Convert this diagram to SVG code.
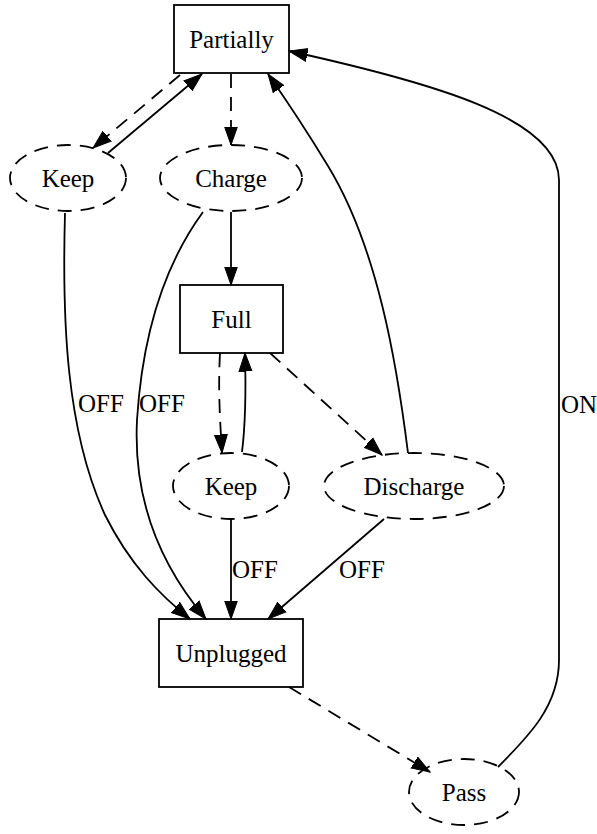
<svg xmlns="http://www.w3.org/2000/svg" width="597" height="834" viewBox="0 0 597 834">
<style>
.n{fill:none;stroke:#000;stroke-width:1.8}
.d{stroke-dasharray:14,9}
.e{fill:none;stroke:#000;stroke-width:1.8;marker-end:url(#ah)}
text{font-family:"Liberation Serif","Times New Roman",serif;font-size:25px;fill:#000}
.c{text-anchor:middle}
</style>
<defs>
<marker id="ah" markerUnits="userSpaceOnUse" markerWidth="20" markerHeight="16" refX="18.5" refY="6.5" orient="auto" viewBox="0 0 20 13">
<path d="M0,0 L18.5,6.5 L0,13 Z" fill="#000" stroke="#000" stroke-width="1"/>
</marker>
</defs>
<rect width="597" height="834" fill="#fff"/>
<g id="connectors">
<path class="e d" d="M180,75 L93,148"/>
<path class="e" d="M108,153 L202,74"/>
<path class="e d" d="M231,74 L231,145"/>
<path class="e" d="M408,453 C397,365 378,248 328,166 C308,133 289,104 268,74"/>
<path class="e" d="M498,767 C530,735 559,705 559,660 L559,180 C559,118 430,82 289,51"/>
<path class="e" d="M231,212 L231,285"/>
<path class="e" d="M65,213 C62,320 66,430 105,515 C130,565 160,595 190,619"/>
<path class="e" d="M203,212 C162,268 142,340 137,420 C133,500 160,565 206,619"/>
<path class="e d" d="M220,353 C218,390 220,420 222,453"/>
<path class="e" d="M242,452 C246,420 246,390 245,353"/>
<path class="e d" d="M270,353 L382,455"/>
<path class="e" d="M231,519 L231,619"/>
<path class="e" d="M384,519 L268,619"/>
<path class="e d" d="M289,687 L430,772"/>
<text x="78" y="412">OFF</text>
<text x="139" y="412">OFF</text>
<text x="561" y="413">ON</text>
<text x="232" y="578">OFF</text>
<text x="339" y="578">OFF</text>
</g>
<g id="partially"><rect class="n" x="174" y="5" width="115" height="68"/><text class="c" x="231.5" y="48">Partially</text></g>
<g id="keep1"><ellipse class="n d" cx="68" cy="178" rx="58" ry="33"/><text class="c" x="68" y="187">Keep</text></g>
<g id="charge"><ellipse class="n d" cx="231" cy="178" rx="71" ry="33"/><text class="c" x="231" y="187">Charge</text></g>
<g id="full"><rect class="n" x="180" y="285" width="103" height="68"/><text class="c" x="231.5" y="328">Full</text></g>
<g id="keep2"><ellipse class="n d" cx="231" cy="486" rx="58" ry="33"/><text class="c" x="231" y="495">Keep</text></g>
<g id="discharge"><ellipse class="n d" cx="414" cy="486" rx="90" ry="33"/><text class="c" x="414" y="495">Discharge</text></g>
<g id="unplugged"><rect class="n" x="159" y="619" width="144" height="68"/><text class="c" x="231" y="662">Unplugged</text></g>
<g id="pass"><ellipse class="n d" cx="464" cy="792" rx="55" ry="33"/><text class="c" x="464" y="801">Pass</text></g>
</svg>
